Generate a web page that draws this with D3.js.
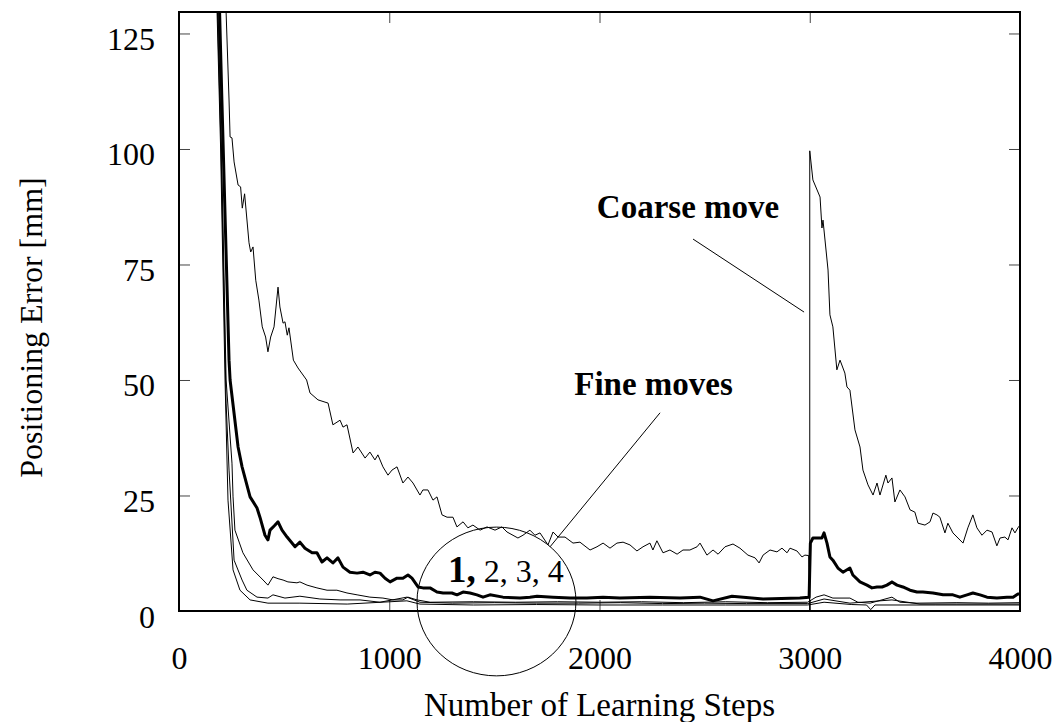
<!DOCTYPE html>
<html>
<head>
<meta charset="utf-8">
<script src="https://cdn.jsdelivr.net/npm/d3@7/dist/d3.min.js"></script>
<style>
  body { margin: 0; background: #fff; }
  text { font-family: "Liberation Serif", "Times New Roman", serif; fill: #000; }
</style>
</head>
<body>
<script>
// values: [learning step, error in mm]
var coarseMove = [
  [215,135],[224,129.6],[238,110.6],[243,102.6],[252,102.4],[262,97.2],[281,92.2],[293,91.8],
  [301,87.2],[312,90.3],[333,79.7],[341,77.7],[352,78.8],[365,71.6],[380,67.3],[396,61.5],
  [412,59.3],[423,56.1],[436,59.3],[452,61.5],[471,70.1],[480,65.8],[495,62.3],[504,62.6],
  [515,59.7],[523,61.3],[544,54.3],[566,52.6],[607,50.0],[623,47.2],[661,45.7],[709,45.0],
  [732,40.3],[766,41.3],[780,39.8],[799,40.3],[828,34.2],[851,35.5],[885,33.1],[908,34.4],
  [932,32.7],[946,33.8],[970,31.2],[994,29.4],[1013,30.5],[1037,31.2],[1065,27.7],[1089,29.0],
  [1113,27.7],[1146,25.1],[1160,26.2],[1184,26.2],[1208,24.0],[1227,24.7],[1251,20.8],[1275,20.3],
  [1303,20.3],[1322,18.2],[1351,19.3],[1374,18.0],[1398,18.6],[1432,17.5],[1465,18.2],[1503,17.5],
  [1536,18.2],[1560,17.1],[1612,15.8],[1636,16.4],[1669,17.5],[1693,16.4],[1717,16.9],[1755,14.3],
  [1779,17.1],[1803,16.0],[1836,16.0],[1874,14.7],[1907,14.9],[1955,13.2],[1988,13.9],[2017,14.7],
  [2050,13.6],[2083,14.7],[2112,14.9],[2145,14.3],[2178,13.0],[2207,13.9],[2240,14.7],[2254,13.2],
  [2273,15.2],[2302,12.6],[2335,13.2],[2369,12.3],[2397,13.2],[2430,13.2],[2464,13.9],[2478,14.7],
  [2511,12.1],[2540,13.2],[2564,12.3],[2597,13.9],[2635,14.5],[2668,13.6],[2706,12.1],[2740,11.5],
  [2759,10.4],[2778,12.1],[2811,13.2],[2844,12.8],[2868,13.6],[2892,12.6],[2906,13.6],[2939,13.0],
  [2963,11.7],[2977,12.1],[2995,12.0],[3000,0],[3000,99.6],[3015,93.3],[3049,89.6],[3058,82.9],
  [3063,84.6],[3087,73.8],[3096,64.1],[3110,61.5],[3129,52.2],[3144,54.3],[3167,51.5],[3177,48.5],
  [3191,47.8],[3215,39.2],[3239,35.5],[3253,30.5],[3277,27.3],[3301,25.1],[3320,27.7],[3334,25.1],
  [3362,29.4],[3372,27.7],[3391,28.8],[3405,23.6],[3429,26.2],[3453,24.7],[3477,21.9],[3500,21.4],
  [3515,19.0],[3548,18.6],[3572,19.3],[3586,21.2],[3605,20.8],[3619,20.3],[3643,16.9],[3657,19.0],
  [3681,16.9],[3705,15.8],[3729,14.7],[3752,18.0],[3776,20.8],[3795,18.0],[3819,16.4],[3843,17.5],
  [3867,17.1],[3890,14.1],[3905,15.8],[3928,16.0],[3943,15.4],[3962,18.0],[3976,16.9],[3990,18.0],
  [4000,18.6]
];

var fineMove1 = [
  [190,135],[204,110.6],[238,54.3],[243,50.0],[281,35.5],[300,31.2],[338,24.7],[371,22.3],
  [385,20.3],[409,16.4],[423,15.4],[433,17.5],[457,18.6],[471,19.3],[490,17.5],[514,16.0],
  [552,13.9],[575,14.9],[599,13.6],[633,12.6],[656,12.6],[680,10.6],[704,11.5],[732,10.4],
  [756,11.5],[780,9.5],[813,8.4],[847,8.2],[875,8.4],[908,7.8],[932,8.4],[956,8.2],
  [980,7.1],[1004,6.3],[1037,7.1],[1065,7.1],[1089,7.8],[1108,7.1],[1137,5.2],[1160,5.0],
  [1194,5.0],[1227,4.1],[1256,3.9],[1298,3.9],[1322,3.5],[1351,4.1],[1384,3.9],[1417,3.5],
  [1446,3.0],[1479,3.5],[1541,3.0],[1622,2.8],[1669,3.0],[1703,3.2],[1779,3.0],[1860,2.8],
  [1940,2.8],[2017,3.0],[2097,2.8],[2240,3.0],[2383,2.8],[2478,3.0],[2540,2.2],[2630,3.2],
  [2778,2.6],[2953,2.8],[2997,3.0],[3003,14.7],[3015,15.8],[3039,15.8],[3058,15.8],[3068,16.9],
  [3082,14.7],[3096,11.7],[3110,11.0],[3134,9.3],[3158,8.4],[3191,9.3],[3205,7.8],[3239,6.3],
  [3272,5.6],[3296,5.0],[3320,5.2],[3344,5.2],[3367,5.6],[3391,6.3],[3415,5.6],[3443,5.2],
  [3477,4.5],[3510,4.1],[3538,4.1],[3586,3.9],[3634,3.5],[3681,3.5],[3714,3.0],[3748,3.5],
  [3776,3.9],[3810,3.5],[3843,3.0],[3890,2.8],[3938,3.0],[3967,3.0],[3990,3.7],[4000,3.7]
];

var fineMove2 = [
  [183,135],[200,105],[224,50],[252,32],[257,24.7],[266,17.5],[304,12.6],[352,8.9],
  [400,6.7],[423,5.6],[447,7.4],[471,7.0],[495,6.7],[518,6.3],[561,6.1],[575,6.3],
  [609,5.6],[656,5.0],[704,4.5],[751,4.5],[799,3.9],[847,3.5],[908,3.0],[970,2.8],
  [1018,2.4],[1065,2.4],[1089,3.0],[1132,2.4],[1194,1.9],[1400,2.0],[1600,1.9],[1800,2.0],
  [2000,1.9],[2200,2.0],[2400,1.8],[2600,2.0],[2800,1.8],[2990,1.9],[3030,3.0],[3068,3.5],
  [3110,2.8],[3191,2.8],[3229,1.9],[3287,1.7],[3391,3.0],[3429,1.9],[3510,1.7],[3700,1.8],
  [3850,1.7],[4000,1.8]
];

var fineMove3 = [
  [180,135],[200,100],[224,45],[238,30.5],[262,11],[300,6.7],[323,4.5],[371,3.0],
  [423,2.8],[447,3.5],[504,2.8],[575,3.2],[670,2.6],[766,2.4],[861,2.4],[956,1.9],
  [1084,3.0],[1146,1.9],[1300,1.7],[1500,1.8],[1700,1.7],[1900,1.7],[2100,1.8],[2300,1.6],
  [2500,1.7],[2700,1.6],[2990,1.6],[3068,2.6],[3191,1.7],[3391,2.4],[3524,1.5],[3700,1.5],
  [4000,1.5]
];

var fineMove4 = [
  [178,135],[198,100],[219,50],[233,24],[257,8.9],[290,4.5],[338,2.4],[423,1.7],
  [575,1.7],[800,1.5],[1084,2.2],[1146,1.5],[1400,1.3],[1700,1.4],[2000,1.3],[2300,1.3],
  [2600,1.3],[2990,1.3],[3068,1.9],[3200,1.4],[3270,1.3],[3290,0.3],[3310,1.3],[3600,1.3],
  [4000,1.3]
];

var xTicks = [0, 1000, 2000, 3000, 4000];
var yTicks = [0, 25, 50, 75, 100, 125];

var W = 1056, H = 722;
var mLeft = 179, mRight = 1020, mTop = 12, mBottom = 611;

var x = d3.scaleLinear().domain([0, 4000]).range([mLeft, mRight]);
var y = d3.scaleLinear().domain([0, 129.65]).range([mBottom, mTop]);

var svg = d3.select('body').append('svg')
  .attr('width', W)
  .attr('height', H);

svg.append('clipPath').attr('id', 'plot')
  .append('rect')
  .attr('x', mLeft).attr('y', mTop)
  .attr('width', mRight - mLeft).attr('height', mBottom - mTop);

// ticks on all four sides, pointing inward
function styleAxis(g) {
  g.select('.domain').remove();
  g.selectAll('.tick line').attr('stroke', '#444').attr('stroke-width', 1);
  g.selectAll('.tick text')
    .attr('font-family', '"Liberation Serif", serif')
    .attr('font-size', 32)
    .attr('fill', '#000');
}

svg.append('g')
  .attr('transform', 'translate(0,' + mBottom + ')')
  .call(d3.axisBottom(x).tickValues(xTicks).tickFormat(d3.format('d'))
    .tickSizeInner(-11).tickSizeOuter(0).tickPadding(35))
  .call(styleAxis);

svg.append('g')
  .attr('transform', 'translate(0,' + mTop + ')')
  .call(d3.axisTop(x).tickValues(xTicks).tickSizeInner(-11).tickSizeOuter(0).tickFormat(''))
  .call(styleAxis);

svg.append('g')
  .attr('transform', 'translate(' + mLeft + ',0)')
  .call(d3.axisLeft(y).tickValues(yTicks).tickFormat(d3.format('d'))
    .tickSizeInner(-11).tickSizeOuter(0).tickPadding(24))
  .call(styleAxis)
  .selectAll('.tick text').attr('dy', '0.5em');

svg.append('g')
  .attr('transform', 'translate(' + mRight + ',0)')
  .call(d3.axisRight(y).tickValues(yTicks).tickSizeInner(-11).tickSizeOuter(0).tickFormat(''))
  .call(styleAxis);

var line = d3.line()
  .x(function(d) { return x(d[0]); })
  .y(function(d) { return y(d[1]); });

var curves = svg.append('g').attr('clip-path', 'url(#plot)');

[fineMove4, fineMove3, fineMove2, coarseMove].forEach(function(s) {
  curves.append('path')
    .attr('d', line(s))
    .attr('fill', 'none')
    .attr('stroke', '#000')
    .attr('stroke-width', 1)
    .attr('stroke-linejoin', 'round');
});

curves.append('path')
  .attr('d', line(fineMove1))
  .attr('fill', 'none')
  .attr('stroke', '#000')
  .attr('stroke-width', 3)
  .attr('stroke-linejoin', 'round');

// frame
svg.append('rect')
  .attr('x', mLeft).attr('y', mTop)
  .attr('width', mRight - mLeft).attr('height', mBottom - mTop)
  .attr('fill', 'none')
  .attr('stroke', '#000')
  .attr('stroke-width', 2);

// annotations
svg.append('text')
  .attr('x', x(2421)).attr('y', y(85.1))
  .attr('text-anchor', 'middle')
  .attr('font-size', 33).attr('font-weight', 'bold')
  .text('Coarse move');

svg.append('line')
  .attr('x1', x(2445)).attr('y1', y(80.5))
  .attr('x2', x(2973)).attr('y2', y(64.7))
  .attr('stroke', '#000').attr('stroke-width', 1);

svg.append('text')
  .attr('x', x(2257)).attr('y', y(46.8))
  .attr('text-anchor', 'middle')
  .attr('font-size', 33).attr('font-weight', 'bold')
  .text('Fine moves');

svg.append('line')
  .attr('x1', x(2288)).attr('y1', y(42.9))
  .attr('x2', x(1765)).attr('y2', y(13.9))
  .attr('stroke', '#000').attr('stroke-width', 1);

svg.append('ellipse')
  .attr('cx', x(1510)).attr('cy', y(2.06))
  .attr('rx', x(1510 + 378) - x(1510))
  .attr('ry', y(0) - y(16.1))
  .attr('fill', 'none')
  .attr('stroke', '#000').attr('stroke-width', 1);

var lbl = svg.append('text')
  .attr('x', x(1279)).attr('y', y(6.3))
  .attr('font-size', 32);
lbl.append('tspan').attr('font-weight', 'bold').attr('font-size', 37).text('1,');
lbl.append('tspan').text(' 2, 3, 4');

// axis titles
svg.append('text')
  .attr('x', (mLeft + mRight) / 2).attr('y', 716)
  .attr('text-anchor', 'middle')
  .attr('font-size', 33)
  .text('Number of Learning Steps');

svg.append('text')
  .attr('transform', 'translate(42,' + ((mTop + mBottom) / 2 + 16) + ') rotate(-90)')
  .attr('text-anchor', 'middle')
  .attr('font-size', 32)
  .text('Positioning Error [mm]');
</script>
</body>
</html>
